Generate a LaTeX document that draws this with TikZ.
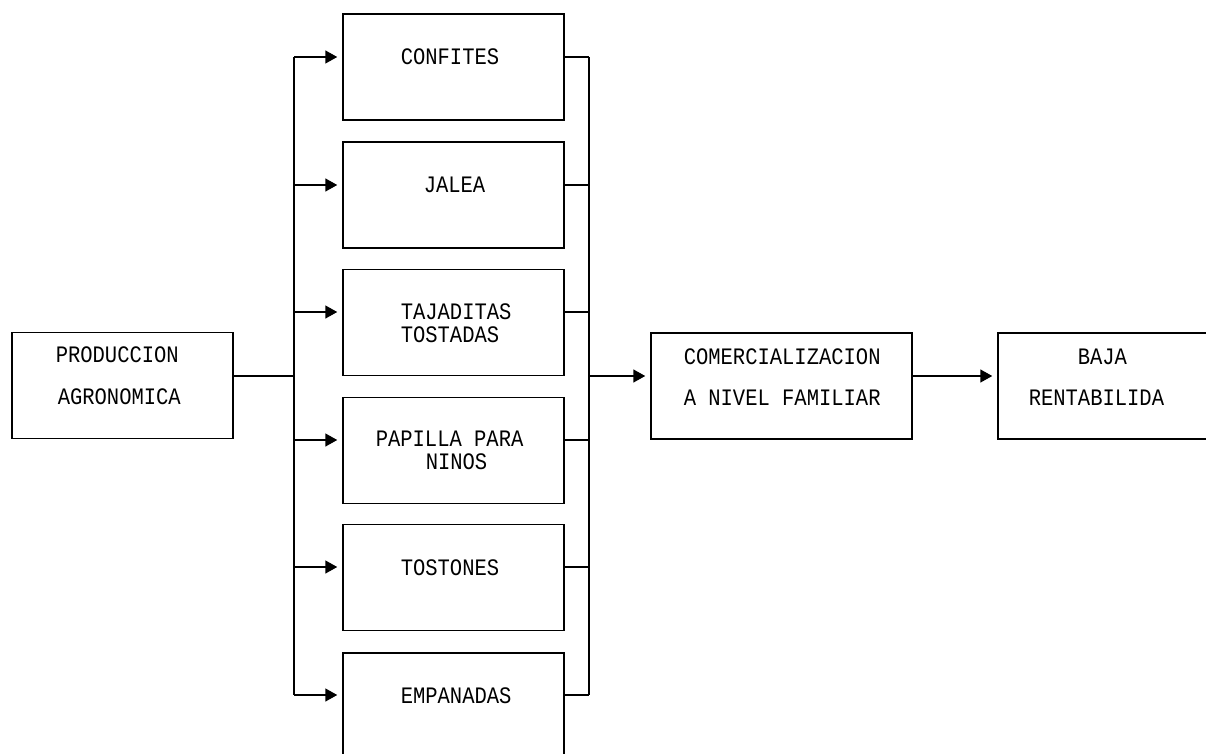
\documentclass[tikz,border=0pt]{standalone}
\usepackage{fontspec}
\usepackage{graphicx}
\usetikzlibrary{arrows.meta}
\newfontfamily\pixfont{Liberation Mono}
\newcommand{\tall}[1]{\scalebox{1}[1.15]{#1}}
\begin{document}
\begin{tikzpicture}[x=1pt,y=-1pt,
  line width=1.5pt,
  box/.style={draw, rectangle, inner sep=0pt, minimum width=221pt, minimum height=106pt},
  lbl/.style={anchor=west, inner sep=0pt, font=\pixfont\fontsize{20.5}{20.5}\selectfont},
  arr/.style={-{Triangle[length=12pt,width=13pt]}, shorten >=5pt}]
\useasboundingbox (0,0) rectangle (1206,754);
\clip (0,0) rectangle (1206,754);

% boxes
\node[box] (prod) at (122.5,385.5) {};
\node[box] (b1) at (453.5,67) {};
\node[box] (b2) at (453.5,195) {};
\node[box] (b3) at (453.5,322.5) {};
\node[box] (b4) at (453.5,450.5) {};
\node[box] (b5) at (453.5,577.5) {};
\node[box, minimum height=112pt] (b6) at (453.5,709) {};
\node[box, minimum width=261pt] (comm) at (781.5,386) {};
\node[box, minimum width=230pt] (baja) at (1113,386) {};

% labels
\node[lbl] (t1) at (55,355) {\tall{PRODUCCION}};
\node[lbl] (t2) at (57,397) {\tall{AGRONOMICA}};
\node[lbl] (t3) at (400,57) {\tall{CONFITES}};
\node[lbl] (t4) at (423,185) {\tall{JALEA}};
\node[lbl] (t5) at (400,312) {\tall{TAJADITAS}};
\node[lbl] (t6) at (400,335) {\tall{TOSTADAS}};
\node[lbl] (t7) at (375,439) {\tall{PAPILLA PARA}};
\node[lbl] (t8) at (425,462) {\tall{NINOS}};
\node[lbl] (t9) at (400,568) {\tall{TOSTONES}};
\node[lbl] (t10) at (400,696) {\tall{EMPANADAS}};
\node[lbl] (t11) at (683,357) {\tall{COMERCIALIZACION}};
\node[lbl] (t12) at (683,398) {\tall{A NIVEL FAMILIAR}};
\node[lbl] (t13) at (1077,357) {\tall{BAJA}};
\node[lbl] (t14) at (1028,398) {\tall{RENTABILIDA}};

% distribution and collection buses
\coordinate (jin) at (294,376);
\coordinate (jout) at (589,376);
\foreach \i/\y in {1/57,2/185,3/312,4/440,5/567,6/695}{
  \coordinate (l\i) at (294,\y);
  \coordinate (r\i) at (589,\y);
}
\draw (prod.east |- jin) -- (jin);
\draw (l1) -- (l6);
\draw (r1) -- (r6);
\foreach \i in {1,...,6}{
  \draw[arr] (l\i) -- (b\i.west |- l\i);
  \draw (b\i.east |- r\i) -- (r\i);
}
\draw[arr] (jout) -- (comm.west |- jout);
\draw[arr] (comm.east |- jout) -- (baja.west |- jout);
\end{tikzpicture}
\end{document}
